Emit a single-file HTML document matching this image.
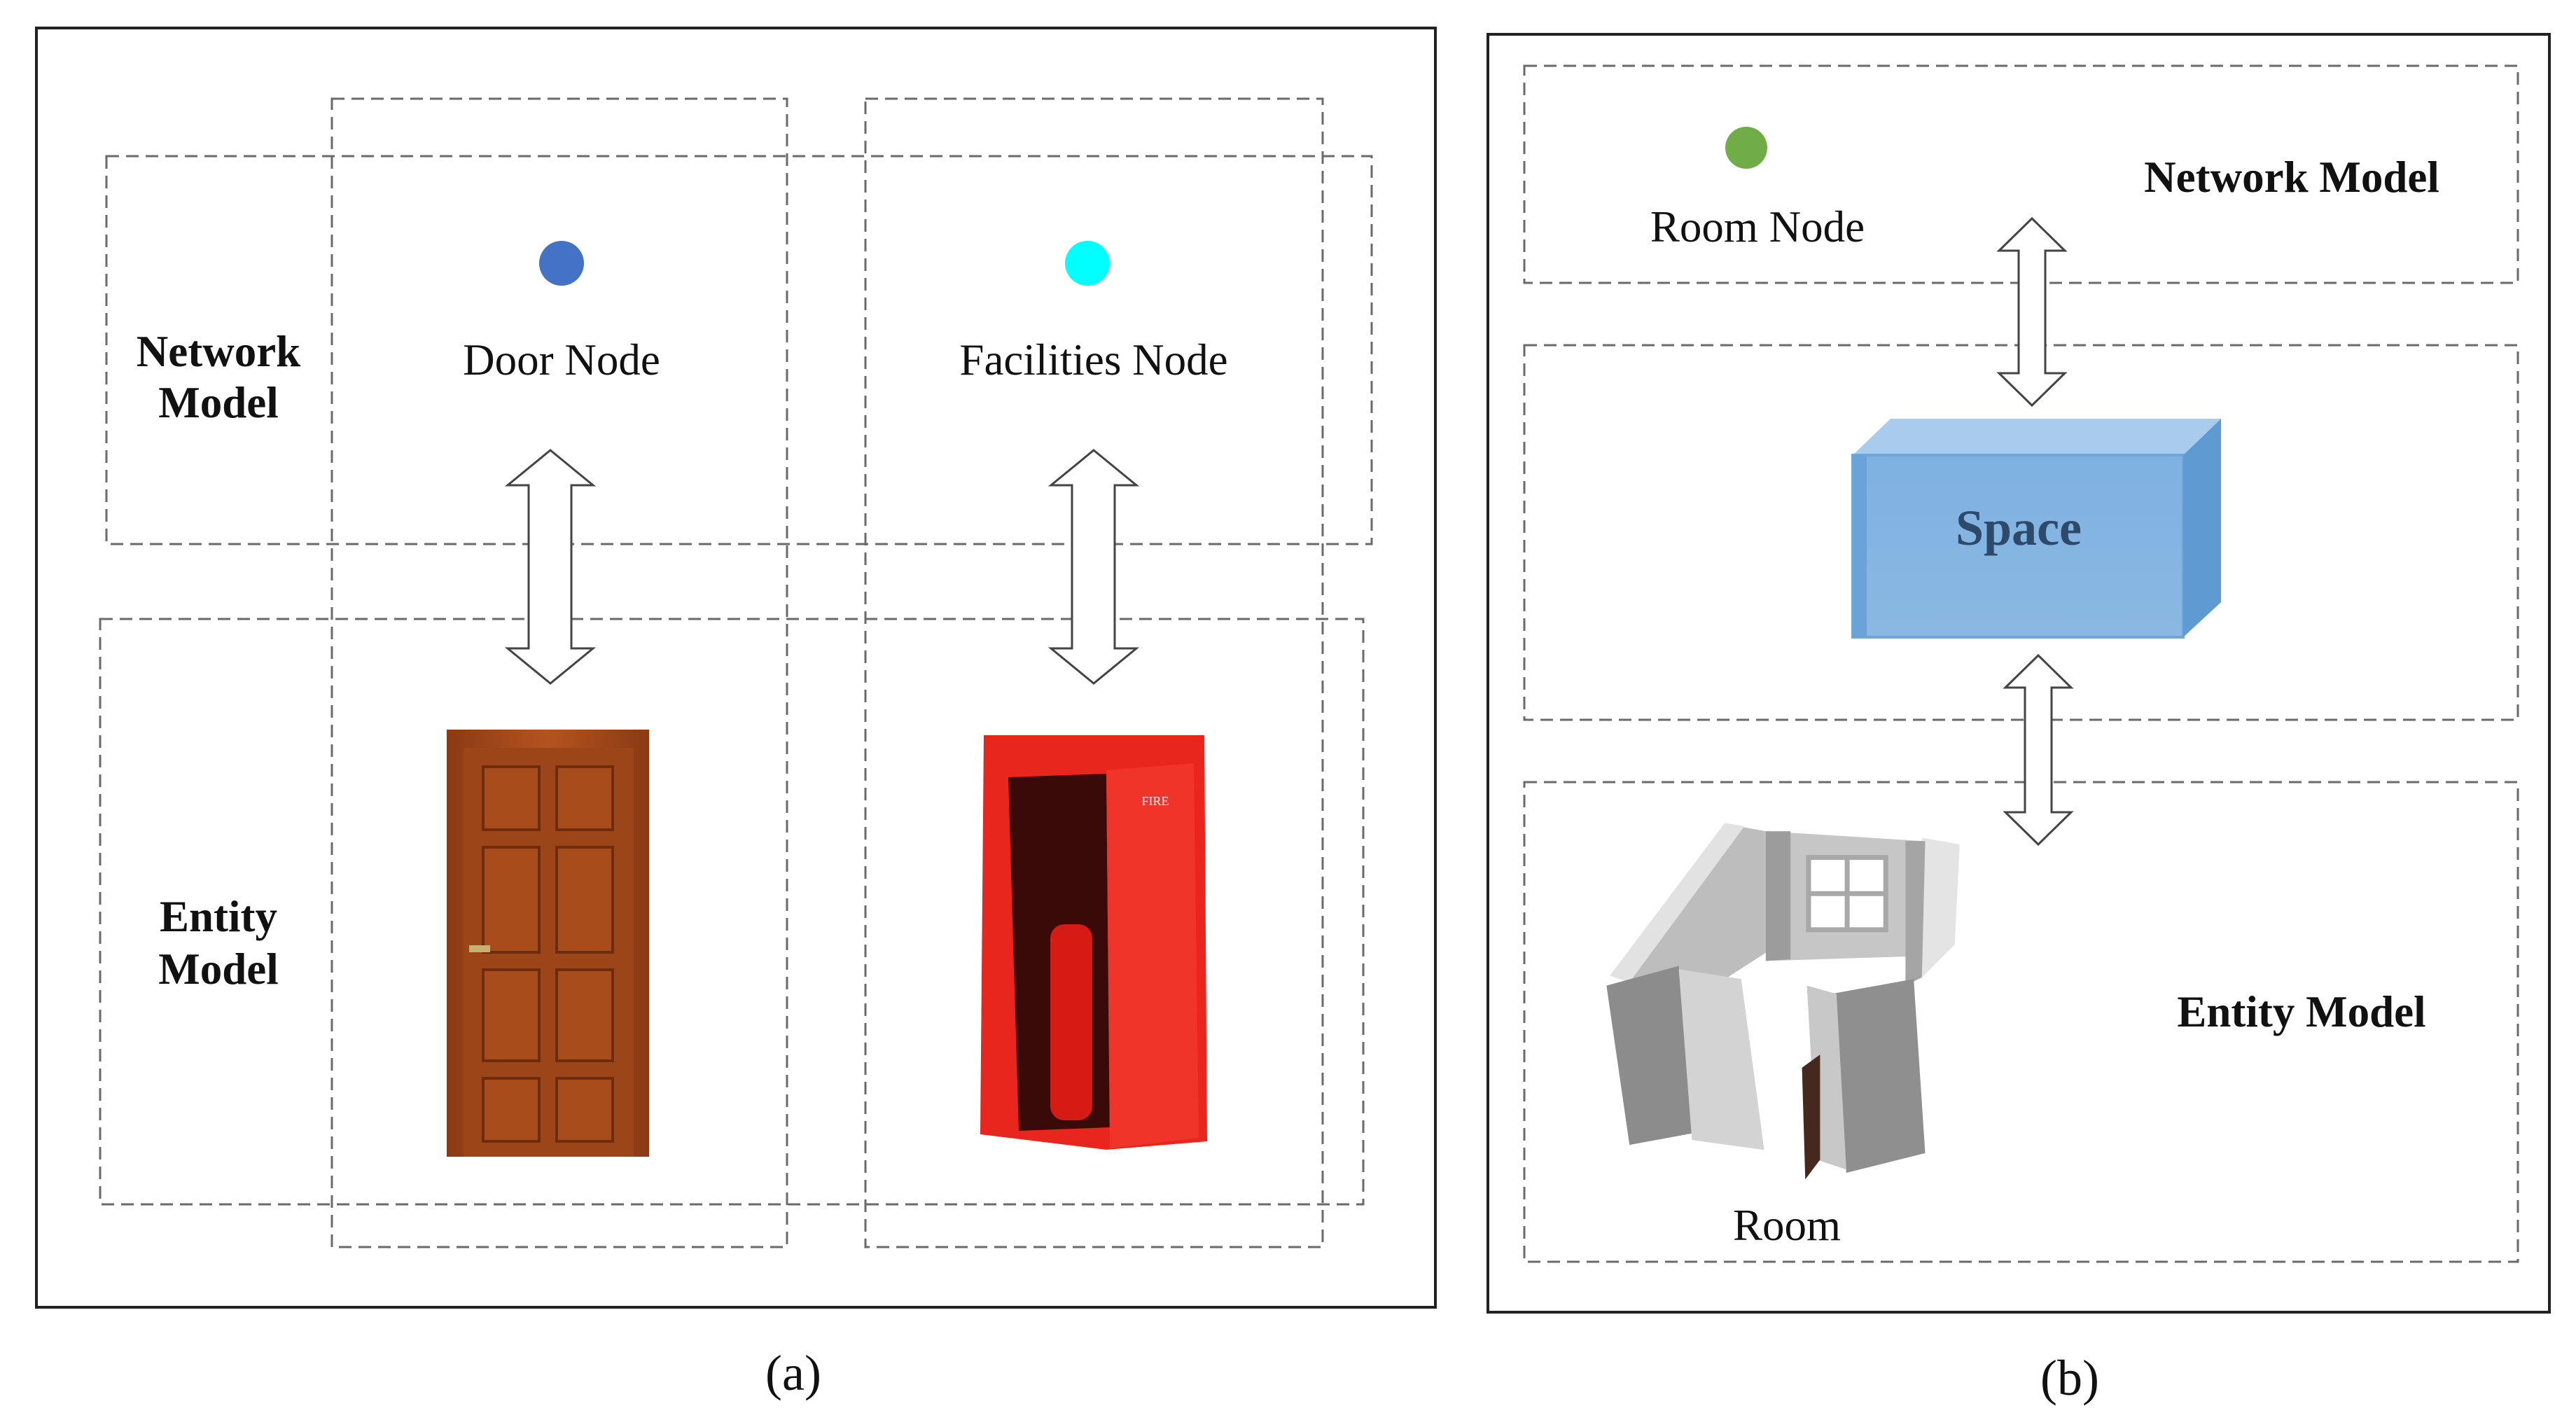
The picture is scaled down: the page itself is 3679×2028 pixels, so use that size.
<!DOCTYPE html>
<html><head><meta charset="utf-8"><style>html,body{margin:0;padding:0;background:#fff}svg{display:block}</style></head>
<body>
<svg width="3679" height="2028" viewBox="0 0 3679 2028" xmlns="http://www.w3.org/2000/svg" font-family="Liberation Serif, serif">
<defs>
<linearGradient id="dg" x1="0" x2="1"><stop offset="0" stop-color="#8a3a15"/><stop offset="0.5" stop-color="#b5531f"/><stop offset="1" stop-color="#8a3a15"/></linearGradient>
<linearGradient id="sp" x1="0" y1="0" x2="0" y2="1"><stop offset="0" stop-color="#7fb1e0"/><stop offset="1" stop-color="#8ab8e2"/></linearGradient>
</defs>
<g fill="none" stroke="#222" stroke-width="4">
<rect x="52" y="40" width="1998" height="1827"/>
<rect x="2125" y="49" width="1516" height="1825"/>
</g>
<g fill="none" stroke="#6a6a6a" stroke-width="3" stroke-dasharray="18 10">
<rect x="152" y="223" width="1807" height="554"/>
<rect x="143" y="884" width="1804" height="836"/>
<rect x="474" y="141" width="650" height="1640"/>
<rect x="1236" y="141" width="653" height="1640"/>
<rect x="2177" y="94" width="1419" height="310"/>
<rect x="2177" y="493" width="1419" height="535"/>
<rect x="2177" y="1117" width="1419" height="685"/>
</g>
<circle cx="802" cy="376" r="32" fill="#4472c4"/>
<circle cx="1553" cy="376" r="32" fill="#00ffff"/>
<circle cx="2494" cy="211" r="30" fill="#70ad47"/>
<g font-size="63" text-anchor="middle" fill="#111">
<text x="802" y="535">Door Node</text>
<text x="1562" y="535">Facilities Node</text>
<text x="2510" y="345">Room Node</text>
<text x="2552" y="1771">Room</text>
<text x="1133" y="1985" font-size="72">(a)</text>
<text x="2956" y="1992" font-size="72">(b)</text>
</g>
<g font-size="63" font-weight="bold" text-anchor="middle" fill="#111">
<text x="312" y="523">Network</text><text x="312" y="596">Model</text>
<text x="312" y="1330">Entity</text><text x="312" y="1405">Model</text>
<text x="3273" y="274">Network Model</text>
<text x="3287" y="1466">Entity Model</text>
</g>
<g fill="#fff" stroke="#444" stroke-width="3">
<path d="M786 643 L847 693 L816 693 L816 926 L847 926 L786 976 L725 926 L755 926 L755 693 L725 693 Z"/>
<path d="M1562 643 L1623 693 L1592 693 L1592 926 L1623 926 L1562 976 L1501 926 L1531 926 L1531 693 L1501 693 Z"/>
<path d="M2902 312 L2949 358 L2921 358 L2921 533 L2949 533 L2902 579 L2855 533 L2883 533 L2883 358 L2855 358 Z"/>
<path d="M2911 936 L2958 982 L2930 982 L2930 1160 L2958 1160 L2911 1206 L2864 1160 L2892 1160 L2892 982 L2864 982 Z"/>
</g>
<!-- door -->
<rect x="638" y="1042" width="289" height="610" fill="url(#dg)"/>
<rect x="662" y="1068" width="243" height="584" fill="#9c4519"/>
<g fill="#a84c1c" stroke="#6e2c0c" stroke-width="4">
<rect x="690" y="1095" width="80" height="90"/><rect x="795" y="1095" width="80" height="90"/>
<rect x="690" y="1210" width="80" height="150"/><rect x="795" y="1210" width="80" height="150"/>
<rect x="690" y="1385" width="80" height="130"/><rect x="795" y="1385" width="80" height="130"/>
<rect x="690" y="1540" width="80" height="90"/><rect x="795" y="1540" width="80" height="90"/>
</g>
<rect x="670" y="1350" width="30" height="10" fill="#c8b070"/>
<!-- extinguisher cabinet -->
<path d="M1405 1050 L1720 1050 L1724 1630 L1580 1642 L1400 1620 Z" fill="#e8261e"/>
<path d="M1440 1110 L1580 1105 L1585 1610 L1455 1615 Z" fill="#3a0a08"/>
<rect x="1500" y="1320" width="60" height="280" rx="20" fill="#d61a14"/>
<path d="M1580 1100 L1705 1090 L1712 1625 L1585 1640 Z" fill="#f0342a"/>
<text x="1650" y="1150" font-size="18" fill="#fff" text-anchor="middle">FIRE</text>
<!-- space box -->
<path d="M2646 650 L2700 598 L3172 598 L3118 650 Z" fill="#a9cbec"/>
<rect x="2646" y="650" width="472" height="260" fill="url(#sp)" stroke="#6fa6d8" stroke-width="4"/>
<path d="M3118 650 L3172 598 L3172 860 L3118 910 Z" fill="#5f9ad3"/>
<rect x="2646" y="650" width="20" height="260" fill="#6aa3d8"/>
<text x="2883" y="778" font-size="72" font-weight="bold" text-anchor="middle" fill="#2e4a6b">Space</text>
<!-- room (thumbnail coords scaled) -->
<g transform="scale(2.346)">
<path d="M1058 503 L1075 506 L1075 580 L1005 625 L990 600 Z" fill="#bdbdbd"/>
<path d="M1050 501 L1062 503 L992 598 L980 594 Z" fill="#e2e2e2"/>
<path d="M1075 506 L1170 512 L1170 582 L1075 585 Z" fill="#c6c6c6"/>
<path d="M1075 506 L1090 506 L1090 584 L1075 585 Z" fill="#9c9c9c"/>
<rect x="1101" y="522" width="47" height="44" fill="#fff" stroke="#a8a8a8" stroke-width="3"/>
<line x1="1124.5" y1="522" x2="1124.5" y2="566" stroke="#a8a8a8" stroke-width="3"/>
<line x1="1101" y1="544" x2="1148" y2="544" stroke="#a8a8a8" stroke-width="3"/>
<path d="M1170 510 L1193 514 L1190 575 L1170 595 Z" fill="#e4e4e4"/>
<path d="M1160 512 L1172 512 L1170 595 L1160 600 Z" fill="#a5a5a5"/>
<path d="M978 600 L1022 588 L1030 690 L992 697 Z" fill="#8c8c8c"/>
<path d="M1022 590 L1060 596 L1074 700 L1030 694 Z" fill="#d3d3d3"/>
<path d="M1115 605 L1165 596 L1172 702 L1124 714 Z" fill="#8f8f8f"/>
<path d="M1100 600 L1118 605 L1124 712 L1106 706 Z" fill="#c8c8c8"/>
<path d="M1097 650 L1108 642 L1108 706 L1099 718 Z" fill="#45281e"/>
</g>
</svg>
</body></html>
